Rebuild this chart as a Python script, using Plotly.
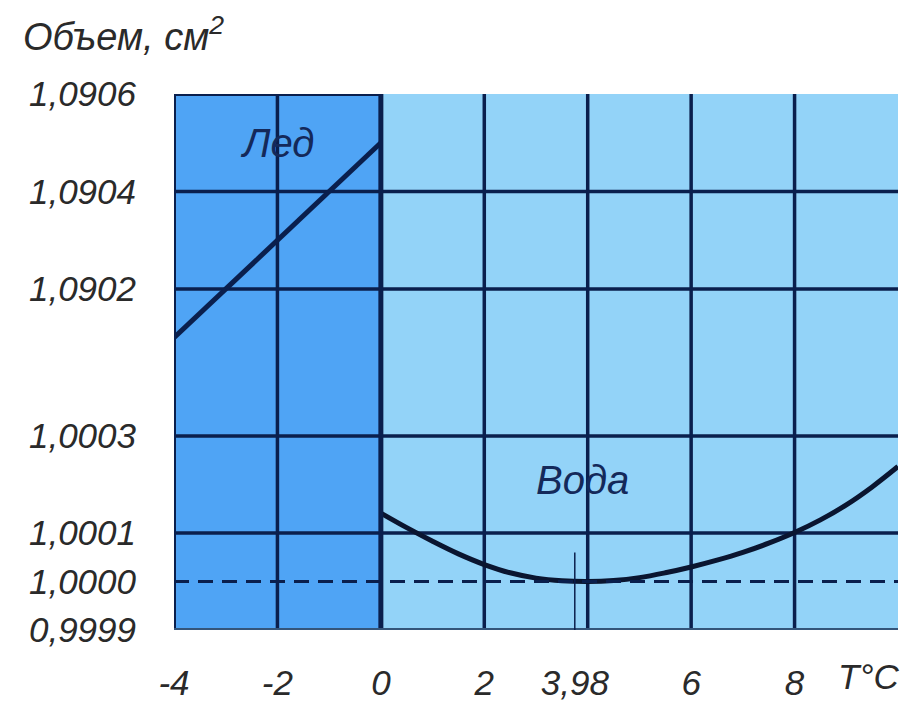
import plotly.graph_objects as go

# ---- data ----
ice_t = [-4, 0]
ice_v = [1.0901, 1.0905]

water_t = [0, 0.5, 1, 1.5, 2, 2.5, 3, 3.5, 4, 4.5, 5, 5.5, 6, 6.5, 7, 7.5, 8, 8.5, 9, 9.5, 10]
water_v = [1.000141, 1.000111, 1.000083, 1.000057, 1.000035, 1.000018, 1.000007, 1.0000015,
           1.000000, 1.000002, 1.000008, 1.000018, 1.000030, 1.000044, 1.000060, 1.000079,
           1.000101, 1.000127, 1.000158, 1.000195, 1.000237]

min_t = 3.75          # position of the "3,98" mark as drawn
x_ticks = [-4, -2, 0, 2, min_t, 6, 8]
x_ticktext = ["-4", "-2", "0", "2", "3,98", "6", "8"]
x_grid = [-2, 2, 4, 6, 8]

upper_ticks = [1.0902, 1.0904, 1.0906]
upper_ticktext = ["1,0902", "1,0904", "1,0906"]
lower_ticks = [0.9999, 1.0000, 1.0001, 1.0003]
lower_ticktext = ["0,9999", "1,0000", "1,0001", "1,0003"]
upper_grid = [1.0902, 1.0904]
lower_grid = [1.0001, 1.0003]

X_MIN, X_MAX = -4, 10
UP_RANGE = [1.09005026, 1.0906]
LO_RANGE = [0.9999, 1.0004526]

GRID = "#0a1f4d"
LEFT_BG = "#4fa4f5"
RIGHT_BG = "#93d3f8"
TXT = "#2a2a2a"
NAVY = "#14295a"
FONT = "Liberation Sans"


def ital(lst):
    return ["<i>" + s + "</i>" for s in lst]


fig = go.Figure()
fig.add_trace(go.Scatter(x=ice_t, y=ice_v, mode="lines", yaxis="y2",
                         line=dict(color=GRID, width=5), hoverinfo="skip"))
fig.add_trace(go.Scatter(x=water_t, y=water_v, mode="lines", yaxis="y",
                         line=dict(color="#0a1530", width=5, shape="spline", smoothing=1.0),
                         hoverinfo="skip"))

shapes = []
# backgrounds
shapes.append(dict(type="rect", xref="x", yref="paper", x0=X_MIN, x1=0, y0=0, y1=1,
                   fillcolor=LEFT_BG, line_width=0, layer="below"))
shapes.append(dict(type="rect", xref="x", yref="paper", x0=0, x1=X_MAX, y0=0, y1=1,
                   fillcolor=RIGHT_BG, line_width=0, layer="below"))
# vertical grid
for gx in x_grid:
    shapes.append(dict(type="line", xref="x", yref="paper", x0=gx, x1=gx, y0=0, y1=1,
                       line=dict(color=GRID, width=3.5), layer="below"))
shapes.append(dict(type="line", xref="x", yref="paper", x0=X_MIN, x1=X_MIN, y0=0, y1=1,
                   line=dict(color=GRID, width=4)))
shapes.append(dict(type="line", xref="x", yref="paper", x0=0, x1=0, y0=0, y1=1,
                   line=dict(color=GRID, width=5)))
# horizontal grid
for gy in upper_grid:
    shapes.append(dict(type="line", xref="x", yref="y2", x0=X_MIN, x1=X_MAX, y0=gy, y1=gy,
                       line=dict(color=GRID, width=3.5), layer="below"))
for gy in lower_grid:
    shapes.append(dict(type="line", xref="x", yref="y", x0=X_MIN, x1=X_MAX, y0=gy, y1=gy,
                       line=dict(color=GRID, width=3.5), layer="below"))
# top border over ice region
shapes.append(dict(type="line", xref="x", yref="y2", x0=X_MIN, x1=0, y0=upper_ticks[-1], y1=upper_ticks[-1],
                   line=dict(color=GRID, width=4)))
# dashed 1.0000 line
shapes.append(dict(type="line", xref="x", yref="y", x0=X_MIN, x1=X_MAX, y0=1.0, y1=1.0,
                   line=dict(color=GRID, width=3, dash="15px,9px")))
# bottom axis line
shapes.append(dict(type="line", xref="x", yref="y", x0=X_MIN, x1=X_MAX, y0=lower_ticks[0], y1=lower_ticks[0],
                   line=dict(color="#34557a", width=4)))
# 3,98 marker
shapes.append(dict(type="line", xref="x", yref="y", x0=min_t, x1=min_t, y0=1.00006, y1=0.99986,
                   line=dict(color=GRID, width=1.5)))
# slide edge strip
shapes.append(dict(type="rect", xref="paper", yref="paper", x0=1.0069, x1=1.1, y0=-0.3, y1=1.3,
                   fillcolor="#2e2f7c", line_width=0, layer="above"))

annotations = [
    dict(text="<i>Лед</i>", x=-2.0, y=1.0905, xref="x", yref="y2", showarrow=False,
         font=dict(family=FONT, size=40, color=NAVY)),
    dict(text="<i>Вода</i>", x=3.9, y=1.000209, xref="x", yref="y", showarrow=False,
         font=dict(family=FONT, size=40, color=NAVY)),
    dict(text="<i>T°C</i>", x=X_MAX, y=0.9999, xref="x", yref="y", showarrow=False,
         xanchor="right", yanchor="top", xshift=3, yshift=-25,
         font=dict(family=FONT, size=35, color=TXT)),
]

tickfont = dict(family=FONT, size=35, color=TXT)
fig.update_layout(
    width=910, height=703,
    margin=dict(l=166, r=20, t=86, b=81, autoexpand=False),
    paper_bgcolor="white", plot_bgcolor="white",
    showlegend=False,
    title=dict(text="<i>Объем, см<sup>2</sup></i>", x=15/910, xanchor="left", xref="container",
               y=1 - 29/703, yanchor="middle", yref="container",
               font=dict(family=FONT, size=38, color=TXT)),
    xaxis=dict(range=[X_MIN, X_MAX], tickvals=x_ticks, ticktext=ital(x_ticktext),
               showgrid=False, zeroline=False, showline=False, automargin=False,
               ticks="outside", ticklen=22, tickcolor="rgba(0,0,0,0)",
               tickfont=tickfont, anchor="y"),
    yaxis=dict(domain=[0, 0.5], range=LO_RANGE, tickvals=lower_ticks, ticktext=ital(lower_ticktext),
               showgrid=False, zeroline=False, showline=False, automargin=False,
               ticks="outside", ticklen=30, tickcolor="rgba(0,0,0,0)", tickfont=tickfont),
    yaxis2=dict(domain=[0.5, 1], range=UP_RANGE, tickvals=upper_ticks, ticktext=ital(upper_ticktext),
                showgrid=False, zeroline=False, showline=False, automargin=False,
                ticks="outside", ticklen=30, tickcolor="rgba(0,0,0,0)", tickfont=tickfont),
    shapes=shapes, annotations=annotations,
)

fig.write_html("out.html")
